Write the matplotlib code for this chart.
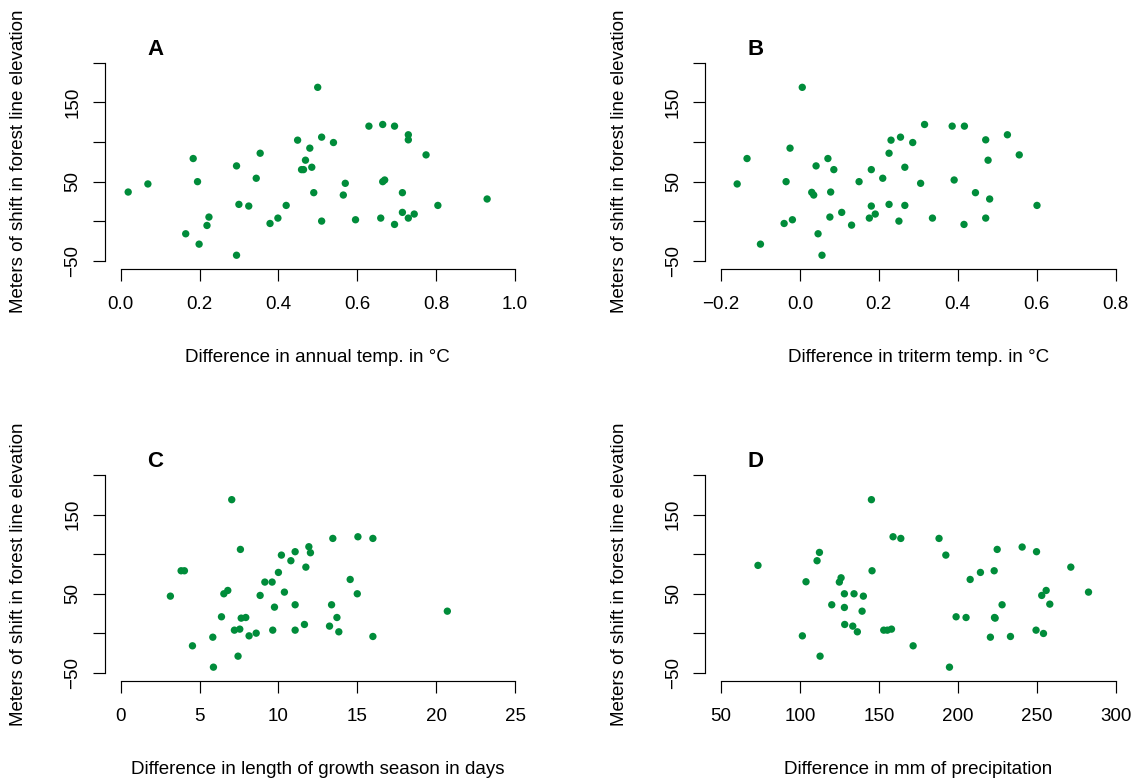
import matplotlib
matplotlib.use("Agg")
import matplotlib.pyplot as plt

# ---------------- data ----------------
annual_temp = [0.019, 0.069, 0.184, 0.195, 0.165, 0.199, 0.219, 0.224, 0.294, 0.294,
               0.300, 0.325, 0.354, 0.344, 0.379, 0.399, 0.420, 0.449, 0.459, 0.464,
               0.469, 0.480, 0.485, 0.490, 0.500, 0.510, 0.510, 0.540, 0.570, 0.565,
               0.596, 0.630, 0.665, 0.660, 0.665, 0.670, 0.695, 0.695, 0.730, 0.730,
               0.715, 0.715, 0.730, 0.745, 0.775, 0.805, 0.930]
shift_a = [36.7, 46.9, 79.0, 49.8, -16.0, -29.1, -5.5, 5.1, 69.7, -43.1,
           21.1, 19.0, 85.7, 54.1, -3.0, 3.8, 19.8, 102.2, 65.0, 65.0,
           76.9, 92.1, 68.0, 35.9, 168.9, 106.0, 0.0, 99.2, 47.7, 32.9,
           1.7, 119.9, 122.0, 3.8, 49.8, 51.9, 119.9, -4.2, 109.0, 102.6,
           35.9, 11.0, 3.8, 8.9, 83.6, 19.8, 27.9]

triterm_temp = [-0.159, -0.134, -0.100, -0.040, -0.019, -0.035, -0.025, 0.006, 0.030, 0.035,
                0.041, 0.046, 0.056, 0.071, 0.086, 0.078, 0.076, 0.106, 0.131, 0.150,
                0.181, 0.181, 0.176, 0.191, 0.210, 0.226, 0.226, 0.231, 0.255, 0.251,
                0.266, 0.266, 0.286, 0.306, 0.316, 0.336, 0.386, 0.391, 0.417, 0.416,
                0.445, 0.471, 0.477, 0.481, 0.471, 0.526, 0.556, 0.601]
shift_b = [46.9, 79.0, -29.1, -3.0, 1.7, 49.8, 92.1, 168.9, 36.3, 32.9,
           69.7, -16.0, -43.1, 79.0, 65.0, 36.7, 5.1, 11.0, -5.1, 49.8,
           65.0, 19.0, 3.8, 8.9, 54.1, 21.1, 85.7, 102.2, 106.0, 0.0,
           68.0, 19.8, 99.2, 47.7, 122.0, 3.8, 119.9, 51.9, 119.9, -4.2,
           35.9, 102.6, 76.9, 27.9, 3.8, 109.0, 83.6, 19.8]

season_days = [3.15, 3.83, 4.04, 4.55, 5.84, 5.88, 6.39, 6.54, 6.79, 7.04,
               7.21, 7.44, 7.55, 7.59, 7.64, 7.93, 8.14, 8.59, 8.84, 9.14,
               9.60, 9.75, 9.64, 10.00, 10.19, 10.38, 10.79, 11.06, 11.06, 11.06,
               11.65, 11.74, 11.93, 12.03, 13.45, 13.37, 13.24, 13.71, 13.83, 14.55,
               15.04, 15.00, 15.99, 15.99, 20.71]
shift_c = [46.8, 78.9, 78.9, -16.0, -5.1, -43.0, 20.7, 49.8, 54.0, 168.8,
           3.8, -29.1, 5.1, 105.9, 19.0, 19.8, -3.4, 0.0, 47.7, 64.6,
           64.6, 32.9, 3.8, 76.8, 98.7, 51.9, 91.6, 103.0, 35.9, 3.8,
           11.0, 83.5, 109.3, 101.7, 119.8, 35.9, 8.9, 19.8, 1.7, 67.9,
           121.9, 49.8, 119.8, -4.2, 27.8]

precip_mm = [73.4, 101.5, 103.8, 110.8, 112.3, 112.7, 120.1, 124.9, 126.0, 128.1,
             128.1, 128.3, 133.4, 134.2, 136.3, 139.3, 140.1, 145.2, 145.6, 153.0,
             155.3, 157.9, 158.9, 163.8, 171.6, 188.0, 192.3, 194.6, 198.8, 205.1,
             207.7, 214.2, 220.5, 222.9, 223.1, 223.5, 224.8, 227.9, 233.2, 240.6,
             249.4, 249.7, 253.0, 254.1, 255.8, 258.1, 271.4, 282.6]
shift_d = [85.7, -3.4, 65.0, 91.6, 102.1, -29.1, 35.9, 64.6, 70.0, 49.8,
           32.5, 11.0, 8.9, 49.8, 1.7, 27.8, 46.8, 168.8, 78.9, 3.8,
           3.8, 5.1, 121.9, 119.8, -16.0, 119.8, 98.7, -43.0, 20.7, 19.8,
           67.9, 76.8, -5.1, 78.9, 19.8, 19.0, 105.9, 35.9, -4.2, 108.9,
           3.8, 103.0, 47.7, -0.4, 54.0, 36.7, 83.5, 51.9]

x_ticks_a = [0.0, 0.2, 0.4, 0.6, 0.8, 1.0]
x_ticks_b = [-0.2, 0.0, 0.2, 0.4, 0.6, 0.8]
x_ticks_c = [0, 5, 10, 15, 20, 25]
x_ticks_d = [50, 100, 150, 200, 250, 300]
x_labels_a = ["0.0", "0.2", "0.4", "0.6", "0.8", "1.0"]
x_labels_b = ["\u22120.2", "0.0", "0.2", "0.4", "0.6", "0.8"]
x_labels_c = ["0", "5", "10", "15", "20", "25"]
x_labels_d = ["50", "100", "150", "200", "250", "300"]
y_ticks = [-50, 0, 50, 100, 150, 200]
y_labels = ["\u221250", "", "50", "", "150", ""]

x_titles = ["Difference in annual temp. in \u00b0C",
            "Difference in triterm temp. in \u00b0C",
            "Difference in length of growth season in days",
            "Difference in mm of precipitation"]
y_title = "Meters of shift in forest line elevation"
letters = ["A", "B", "C", "D"]

# ---------------- styling ----------------
W, H = 1137, 781
plt.rcParams['font.family'] = ['Liberation Sans', 'DejaVu Sans']
GREEN = "#008C3A"
FS = 13.5

fig = plt.figure(figsize=(W / 100, H / 100), dpi=100)


def panel(xs, ys, xticks, xlabels, xtitle, letter,
          px_left, px_bottom, px_right, px_top,
          xt0_px, xt1_px, yt_top_px, yt_bot_px):
    # pixel -> data linear mappings (from tick positions)
    xt0, xt1 = xticks[0], xticks[-1]
    sx = (xt1 - xt0) / (xt1_px - xt0_px)
    xlim = (xt0 + (px_left - xt0_px) * sx, xt0 + (px_right - xt0_px) * sx)
    yv_top, yv_bot = y_ticks[-1], y_ticks[0]
    sy = (yv_top - yv_bot) / (yt_bot_px - yt_top_px)
    ylim = (yv_bot - (px_bottom - yt_bot_px) * sy, yv_bot + (yt_bot_px - px_top) * sy)

    ax = fig.add_axes([px_left / W, 1 - px_bottom / H,
                       (px_right - px_left) / W, (px_bottom - px_top) / H])
    ax.set_xlim(*xlim)
    ax.set_ylim(*ylim)
    ax.scatter(xs, ys, s=28, color=GREEN, edgecolors='none', zorder=3)
    for s in ['top', 'right']:
        ax.spines[s].set_visible(False)
    ax.spines['left'].set_bounds(y_ticks[0], y_ticks[-1])
    ax.spines['bottom'].set_bounds(xticks[0], xticks[-1])
    for s in ['left', 'bottom']:
        ax.spines[s].set_linewidth(0.85)
    ax.set_xticks(xticks)
    ax.set_xticklabels(xlabels)
    ax.set_yticks(y_ticks)
    ax.set_yticklabels(y_labels, rotation=90, va='center')
    ax.tick_params(axis='both', direction='out', length=8.6, width=0.85,
                   labelsize=FS, colors='black')
    ax.tick_params(axis='x', pad=10.5)
    ax.tick_params(axis='y', pad=8)
    ax.patch.set_visible(False)

    ax.set_xlabel(xtitle, fontsize=FS, va='center')
    ax.xaxis.set_label_coords((xt0_px + xt1_px) / 2 / W, 1 - (px_bottom + 88) / H,
                              transform=fig.transFigure)
    ax.set_ylabel(y_title, fontsize=FS, va='center')
    ax.yaxis.set_label_coords((px_left - 86) / W, 1 - (yt_top_px + yt_bot_px) / 2 / H,
                              transform=fig.transFigure)
    fig.text((px_left + 50.5) / W, 1 - (yt_top_px - 7.7) / H, letter,
             fontsize=16, fontweight='bold', ha='center', va='baseline')
    return ax


panel(annual_temp, shift_a, x_ticks_a, x_labels_a, x_titles[0], letters[0],
      104.5, 269, 530, 55, 120.7, 514.7, 62.7, 260.7)
panel(triterm_temp, shift_b, x_ticks_b, x_labels_b, x_titles[1], letters[1],
      705, 269, 1130, 55, 721, 1115.5, 62.7, 260.7)
panel(season_days, shift_c, x_ticks_c, x_labels_c, x_titles[2], letters[2],
      104.5, 681, 530, 467, 120.7, 515, 475, 672.7)
panel(precip_mm, shift_d, x_ticks_d, x_labels_d, x_titles[3], letters[3],
      705, 681, 1130, 467, 721, 1116, 475, 672.7)

fig.savefig("out.png", dpi=100)
